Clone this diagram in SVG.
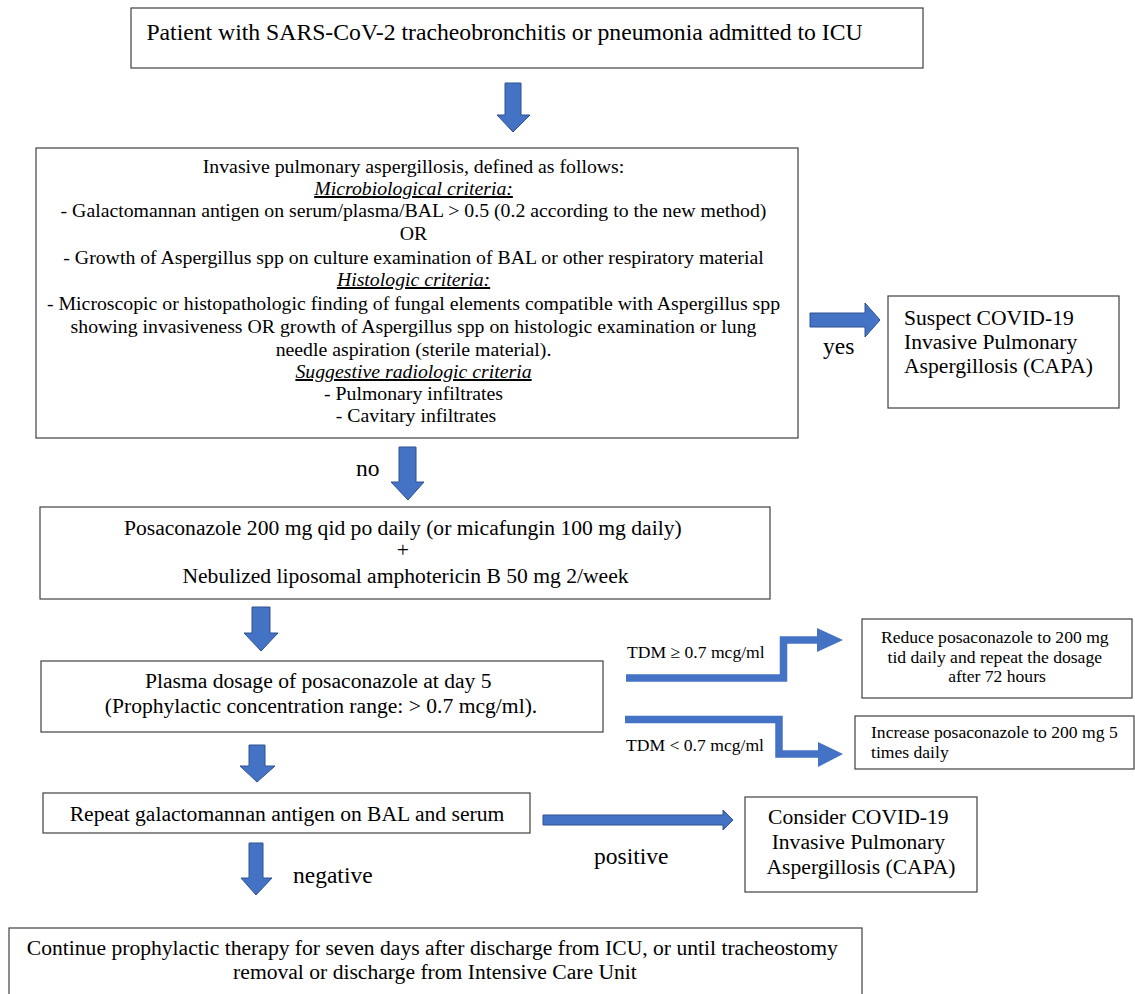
<svg xmlns="http://www.w3.org/2000/svg" width="1135" height="994" viewBox="0 0 1135 994">
<defs>
<style>
.box{fill:#fff;stroke:#404040;stroke-width:1.2}
text{font-family:"Liberation Serif","Times New Roman",serif;fill:#000}
.c{text-anchor:middle}
.f20{font-size:21.6px}
.f18{font-size:19.8px}
.f16{font-size:17.6px}
.lab{font-size:23.5px}
.u{font-style:italic;text-decoration:underline}
.arr{fill:#4472C4;stroke:#2F528F;stroke-width:1}
.el{fill:none;stroke:#4472C4;stroke-width:7.5}
.head{fill:#4472C4}
</style>
</defs>
<rect width="1135" height="994" fill="#fff"/>
<g id="connectors">
<polygon class="arr" points="505,83 521,83 521,115 530,115 513,132 497,115 505,115"/>
<polygon class="arr" points="810,313 865,313 865,303 880,320 865,337 865,327 810,327"/>
<polygon class="arr" points="399,447 416,447 416,482 424,482 408,500 391,482 399,482"/>
<polygon class="arr" points="252,607 270,607 270,633 278,633 261,651 244,633 252,633"/>
<polygon class="arr" points="249,745 265,745 265,766 275,766 257,782 240,766 249,766"/>
<polygon class="arr" points="249,843 263,843 263,878 272,878 256,895 241,878 249,878"/>
<polygon class="arr" points="543,815 723,815 723,810 733,820 723,830 723,825 543,825"/>
<polyline class="el" points="626,678 783.5,678 783.5,640 818,640"/>
<polygon class="head" points="817,628 843,640 817,652"/>
<polyline class="el" points="625,719.5 779,719.5 779,754 819,754"/>
<polygon class="head" points="818,742 843,754 818,767"/>
<text x="823" y="354" class="lab">yes</text>
<text x="356" y="476" class="lab">no</text>
<text x="627" y="658" class="f16">TDM ≥ 0.7 mcg/ml</text>
<text x="626" y="751" class="f16">TDM &lt; 0.7 mcg/ml</text>
<text x="594" y="864" class="lab">positive</text>
<text x="293" y="883" class="lab">negative</text>
</g>
<g id="n1">
<rect class="box" x="131" y="8" width="792" height="60"/>
<text x="504.5" y="40" class="c" style="font-size:23.7px">Patient with SARS-CoV-2 tracheobronchitis or pneumonia admitted to ICU</text>
</g>
<g id="n2">
<rect class="box" x="36" y="148" width="762" height="290"/>
<text class="c f18">
<tspan x="416" y="173">Invasive pulmonary aspergillosis, defined as follows:</tspan>
<tspan x="416" y="195" class="u">Microbiological criteria:</tspan>
<tspan x="416" y="217">- Galactomannan antigen on serum/plasma/BAL &gt; 0.5 (0.2 according to the new method)</tspan>
<tspan x="416" y="240">OR</tspan>
<tspan x="416" y="264">- Growth of Aspergillus spp on culture examination of BAL or other respiratory material</tspan>
<tspan x="416" y="286" class="u">Histologic criteria:</tspan>
<tspan x="416" y="310">- Microscopic or histopathologic finding of fungal elements compatible with Aspergillus spp</tspan>
<tspan x="416" y="333">showing invasiveness OR growth of Aspergillus spp on histologic examination or lung</tspan>
<tspan x="416" y="356">needle aspiration (sterile material).</tspan>
<tspan x="416" y="378" class="u">Suggestive radiologic criteria</tspan>
<tspan x="416" y="400">- Pulmonary infiltrates</tspan>
<tspan x="416" y="422">- Cavitary infiltrates</tspan>
</text>
</g>
<g id="n3">
<rect class="box" x="888" y="296" width="231" height="112"/>
<text class="f20" x="904">
<tspan x="904" y="325">Suspect COVID-19</tspan>
<tspan x="904" y="349">Invasive Pulmonary</tspan>
<tspan x="904" y="373">Aspergillosis (CAPA)</tspan>
</text>
</g>
<g id="n4">
<rect class="box" x="40" y="507" width="730" height="92"/>
<text class="c f20">
<tspan x="405.5" y="535">Posaconazole 200 mg qid po daily (or micafungin 100 mg daily)</tspan>
<tspan x="405.5" y="557">+</tspan>
<tspan x="405.5" y="583">Nebulized liposomal amphotericin B 50 mg 2/week</tspan>
</text>
</g>
<g id="n5">
<rect class="box" x="41" y="661" width="562" height="71"/>
<text class="c f20">
<tspan x="321" y="688">Plasma dosage of posaconazole at day 5</tspan>
<tspan x="321" y="713">(Prophylactic concentration range: &gt; 0.7 mcg/ml).</tspan>
</text>
</g>
<g id="n6">
<rect class="box" x="862" y="619" width="270" height="79"/>
<text class="c f16">
<tspan x="997" y="643">Reduce posaconazole to 200 mg</tspan>
<tspan x="997" y="663">tid daily and repeat the dosage</tspan>
<tspan x="997" y="682">after 72 hours</tspan>
</text>
</g>
<g id="n7">
<rect class="box" x="855" y="716" width="279" height="53"/>
<text class="f16">
<tspan x="871" y="738">Increase posaconazole to 200 mg 5</tspan>
<tspan x="871" y="758">times daily</tspan>
</text>
</g>
<g id="n8">
<rect class="box" x="43" y="793" width="487" height="40"/>
<text x="287" y="821" class="c f20">Repeat galactomannan antigen on BAL and serum</text>
</g>
<g id="n9">
<rect class="box" x="745" y="797" width="232" height="95"/>
<text class="c f20">
<tspan x="861" y="824">Consider COVID-19</tspan>
<tspan x="861" y="849">Invasive Pulmonary</tspan>
<tspan x="861" y="874">Aspergillosis (CAPA)</tspan>
</text>
</g>
<g id="n10">
<rect class="box" x="9" y="928" width="853" height="80"/>
<text class="c f20">
<tspan x="435" y="955">Continue prophylactic therapy for seven days after discharge from ICU, or until tracheostomy</tspan>
<tspan x="435" y="979">removal or discharge from Intensive Care Unit</tspan>
</text>
</g>
</svg>
